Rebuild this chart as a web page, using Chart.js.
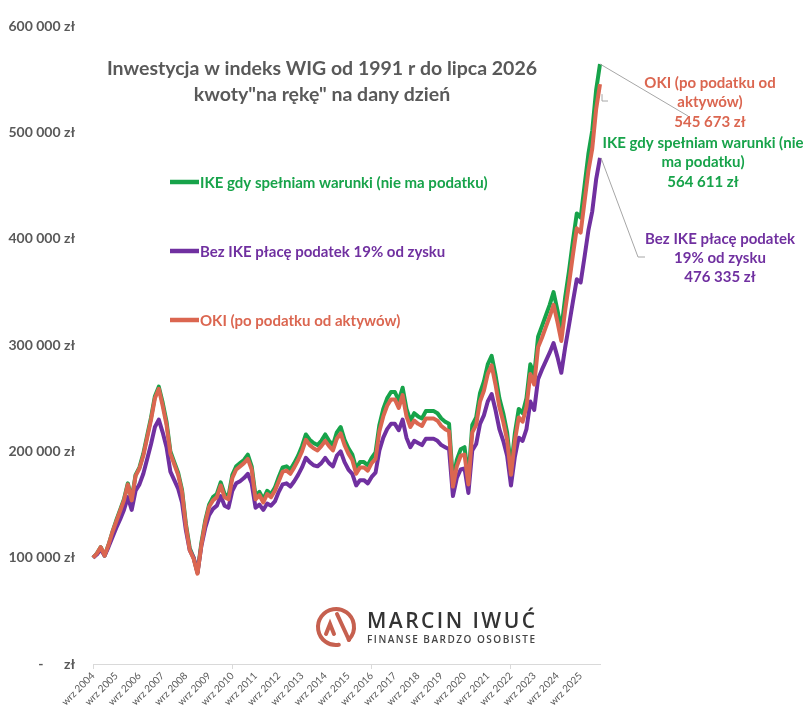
<!DOCTYPE html>
<html lang="pl">
<head>
<meta charset="utf-8">
<title>Inwestycja w indeks WIG</title>
<script src="https://cdn.jsdelivr.net/npm/chart.js@4.4.1/dist/chart.umd.min.js"></script>
<style>
  html, body { margin: 0; padding: 0; background: #fff; }
</style>
</head>
<body>
<canvas id="chart" width="808" height="726"></canvas>
<script>
// bimonthly points, Sep 2004 .. Jul 2026
const monthNames = ['wrz', 'lis', 'sty', 'mar', 'maj', 'lip'];
const firstYear = 2004;

// values in thousands of zł, one row per year (wrz..lip)
const ikeK = [
  100, 104, 110, 102, 112, 124,
  135, 145, 155, 170, 155, 178,
  185, 198, 215, 232, 252, 261,
  246, 228, 200, 190, 180, 164,
  132, 109, 100, 86, 114, 135,
  150, 157, 160, 171, 160, 158,
  178, 186, 189, 192, 197, 186,
  158, 162, 155, 163, 160, 166,
  176, 185, 186, 183, 189, 196,
  205, 216, 211, 208, 206, 210,
  216, 210, 206, 218, 223, 211,
  203, 197, 184, 190, 190, 187,
  194, 199, 225, 240, 250, 256,
  256, 248, 260, 240, 229, 236,
  233, 231, 238, 238, 238, 236,
  231, 228, 226, 172, 192, 202,
  204, 175, 225, 232, 255, 266,
  282, 290, 272, 250, 236, 218,
  184, 217, 240, 236, 250, 282,
  272, 308, 318, 328, 338, 350,
  333, 315, 345, 370, 398, 424,
  420, 450, 480, 502, 540, 564.611
];
const bezIkeK = [
  100, 103, 108, 102, 110, 119,
  128, 136, 145, 157, 145, 163,
  169, 179, 193, 207, 223, 230,
  218, 204, 181, 173, 165, 152,
  126, 107, 100, 86, 111, 128,
  140, 146, 149, 158, 149, 147,
  163, 170, 172, 175, 179, 170,
  147, 150, 145, 151, 149, 153,
  162, 169, 170, 167, 172, 178,
  185, 194, 190, 187, 186, 189,
  194, 189, 186, 196, 200, 190,
  183, 179, 168, 173, 173, 170,
  176, 180, 201, 213, 221, 226,
  226, 220, 230, 213, 204, 210,
  208, 206, 212, 212, 212, 210,
  206, 204, 202, 158, 175, 183,
  184, 161, 201, 207, 226, 234,
  247, 254, 239, 221, 210, 196,
  168, 195, 213, 210, 221, 247,
  239, 268, 277, 285, 293, 302,
  289, 274, 298, 319, 341, 362,
  359, 383, 408, 426, 456, 476.335
];
const okiK = [
  100, 104, 110, 102, 112, 124,
  134, 144, 154, 169, 154, 177,
  184, 196, 213, 230, 250, 259,
  243, 225, 198, 188, 178, 162,
  130, 107, 99, 85, 112, 133,
  148, 154, 157, 168, 157, 155,
  175, 183, 186, 189, 193, 183,
  155, 159, 152, 160, 157, 163,
  172, 181, 182, 179, 185, 192,
  200, 211, 206, 203, 201, 205,
  210, 205, 201, 212, 217, 206,
  198, 192, 179, 185, 185, 182,
  189, 193, 219, 233, 243, 249,
  249, 241, 253, 233, 223, 229,
  226, 224, 231, 231, 231, 229,
  224, 221, 219, 167, 186, 196,
  197, 169, 218, 225, 247, 257,
  273, 281, 263, 242, 228, 211,
  178, 210, 232, 228, 242, 273,
  263, 298, 307, 317, 327, 338,
  322, 304, 333, 358, 385, 410,
  406, 435, 464, 485, 522, 545.673
];

const seriesNames = [
  'IKE gdy spełniam warunki (nie ma podatku)',
  'Bez IKE płacę podatek 19% od zysku',
  'OKI (po podatku od aktywów)'
];
const yTicks = [0, 100000, 200000, 300000, 400000, 500000, 600000];
const titleLines = ['Inwestycja w indeks WIG od 1991 r do lipca 2026', 'kwoty"na rękę" na dany dzień'];

const GREEN = '#17A34A';
const PURPLE = '#7030A0';
const RED = '#DB6650';
const GREY = '#595959';

const labels = ikeK.map((_, i) => {
  const m = i % 6;
  const year = firstYear + Math.floor(i / 6) + (m >= 2 ? 1 : 0);
  return monthNames[m] + ' ' + year;
});

function fmt(v) {
  return Math.round(v).toString().replace(/\B(?=(\d{3})+(?!\d))/g, ' ') + ' zł';
}

function fitText(ctx, text, x, y, width) {
  ctx.letterSpacing = '0px';
  const w = ctx.measureText(text).width;
  ctx.letterSpacing = ((width - w) / (text.length - 1)).toFixed(2) + 'px';
  ctx.fillText(text, x, y);
  ctx.letterSpacing = '0px';
}

const overlay = {
  id: 'overlay',
  afterDraw(chart) {
    const ctx = chart.ctx;
    const xs = chart.scales.x, ys = chart.scales.y;
    ctx.save();

    // title
    ctx.fillStyle = GREY;
    ctx.font = 'bold 19.5px Lato';
    ctx.textAlign = 'center';
    ctx.textBaseline = 'middle';
    titleLines.forEach((t, k) => ctx.fillText(t, 322, 69 + k * 26));

    // legend inside plot
    const legendColors = [GREEN, PURPLE, RED];
    ctx.font = 'bold 15px Lato';
    ctx.textAlign = 'left';
    seriesNames.forEach((name, k) => {
      const yy = 182 + k * 69;
      ctx.strokeStyle = legendColors[k];
      ctx.lineWidth = 4.5;
      ctx.beginPath();
      ctx.moveTo(170, yy);
      ctx.lineTo(199, yy);
      ctx.stroke();
      ctx.fillStyle = legendColors[k];
      ctx.fillText(name, 200, yy + 1);
    });

    // end labels with leader lines
    const last = ikeK.length - 1;
    const px = xs.getPixelForValue(last);
    ctx.strokeStyle = '#A6A6A6';
    ctx.lineWidth = 1;
    ctx.beginPath();
    ctx.moveTo(px, ys.getPixelForValue(ikeK[last] * 1000));
    ctx.lineTo(688, 116);
    ctx.moveTo(px + 2, ys.getPixelForValue(okiK[last] * 1000) + 10);
    ctx.lineTo(px + 2, 101);
    ctx.lineTo(608, 101);
    ctx.moveTo(px + 1, ys.getPixelForValue(bezIkeK[last] * 1000));
    ctx.lineTo(638, 257);
    ctx.lineTo(645, 257);
    ctx.stroke();

    ctx.textAlign = 'center';
    ctx.font = 'bold 15px Lato';
    ctx.fillStyle = RED;
    ['OKI (po podatku od', 'aktywów)', fmt(okiK[last] * 1000)]
      .forEach((t, k) => ctx.fillText(t, 710, 83 + k * 19.5));
    ctx.fillStyle = GREEN;
    ['IKE gdy spełniam warunki (nie', 'ma podatku)', fmt(ikeK[last] * 1000)]
      .forEach((t, k) => ctx.fillText(t, 703, 143 + k * 19.5));
    ctx.fillStyle = PURPLE;
    ['Bez IKE płacę podatek', '19% od zysku', fmt(bezIkeK[last] * 1000)]
      .forEach((t, k) => ctx.fillText(t, 720, 239 + k * 19));

    // logo
    const cx = 336, cy = 627;
    ctx.strokeStyle = '#C6604F';
    ctx.lineWidth = 4;
    ctx.lineCap = 'round';
    ctx.beginPath();
    ctx.arc(cx, cy, 18, 0.45 * Math.PI, 2.25 * Math.PI);
    ctx.stroke();
    ctx.beginPath();
    ctx.moveTo(326, 634);
    ctx.lineTo(330, 624);
    ctx.lineTo(334, 634);
    ctx.moveTo(337, 614);
    ctx.lineTo(349, 640);
    ctx.stroke();
    ctx.fillStyle = '#333333';
    ctx.textAlign = 'left';
    ctx.font = '600 21px "Open Sans"';
    fitText(ctx, 'MARCIN IWUĆ', 367, 622, 168);
    ctx.font = '600 10px "Open Sans"';
    ctx.fillStyle = '#444444';
    fitText(ctx, 'FINANSE BARDZO OSOBISTE', 367, 640, 168);

    ctx.restore();
  }
};

new Chart(document.getElementById('chart'), {
  type: 'line',
  data: {
    labels: labels,
    datasets: [
      { label: seriesNames[0], data: ikeK.map(v => v * 1000), borderColor: GREEN, order: 2 },
      { label: seriesNames[1], data: bezIkeK.map(v => v * 1000), borderColor: PURPLE, order: 1 },
      { label: seriesNames[2], data: okiK.map(v => v * 1000), borderColor: RED, order: 0 }
    ]
  },
  options: {
    responsive: false,
    animation: false,
    layout: { padding: { top: 18, right: 208, left: 0, bottom: 0 } },
    elements: {
      line: { borderWidth: 4, tension: 0, borderJoinStyle: 'round' },
      point: { radius: 0 }
    },
    plugins: { legend: { display: false }, tooltip: { enabled: false } },
    scales: {
      x: {
        afterFit(scale) { scale.height = 62; },
        border: { display: true, color: '#D9D9D9' },
        grid: {
          drawOnChartArea: false,
          tickLength: 5,
          color: c => (c.index % 6 === 0 ? '#D9D9D9' : 'rgba(0,0,0,0)')
        },
        ticks: {
          autoSkip: false,
          minRotation: 45,
          maxRotation: 45,
          padding: 1,
          color: GREY,
          font: { family: 'Lato', size: 10 },
          callback(value, index) { return index % 6 === 0 ? labels[index] : null; }
        }
      },
      y: {
        min: 0,
        max: 600000,
        afterFit(scale) { scale.width = 93; },
        afterBuildTicks(scale) { scale.ticks = yTicks.map(v => ({ value: v })); },
        border: { display: false },
        grid: { display: false, drawTicks: false },
        ticks: {
          padding: 18,
          color: GREY,
          font: { family: 'Lato', size: 14, weight: 'bold' },
          callback(v) { return v === 0 ? '-      zł' : fmt(v); }
        }
      }
    }
  },
  plugins: [overlay]
});
</script>
</body>
</html>
